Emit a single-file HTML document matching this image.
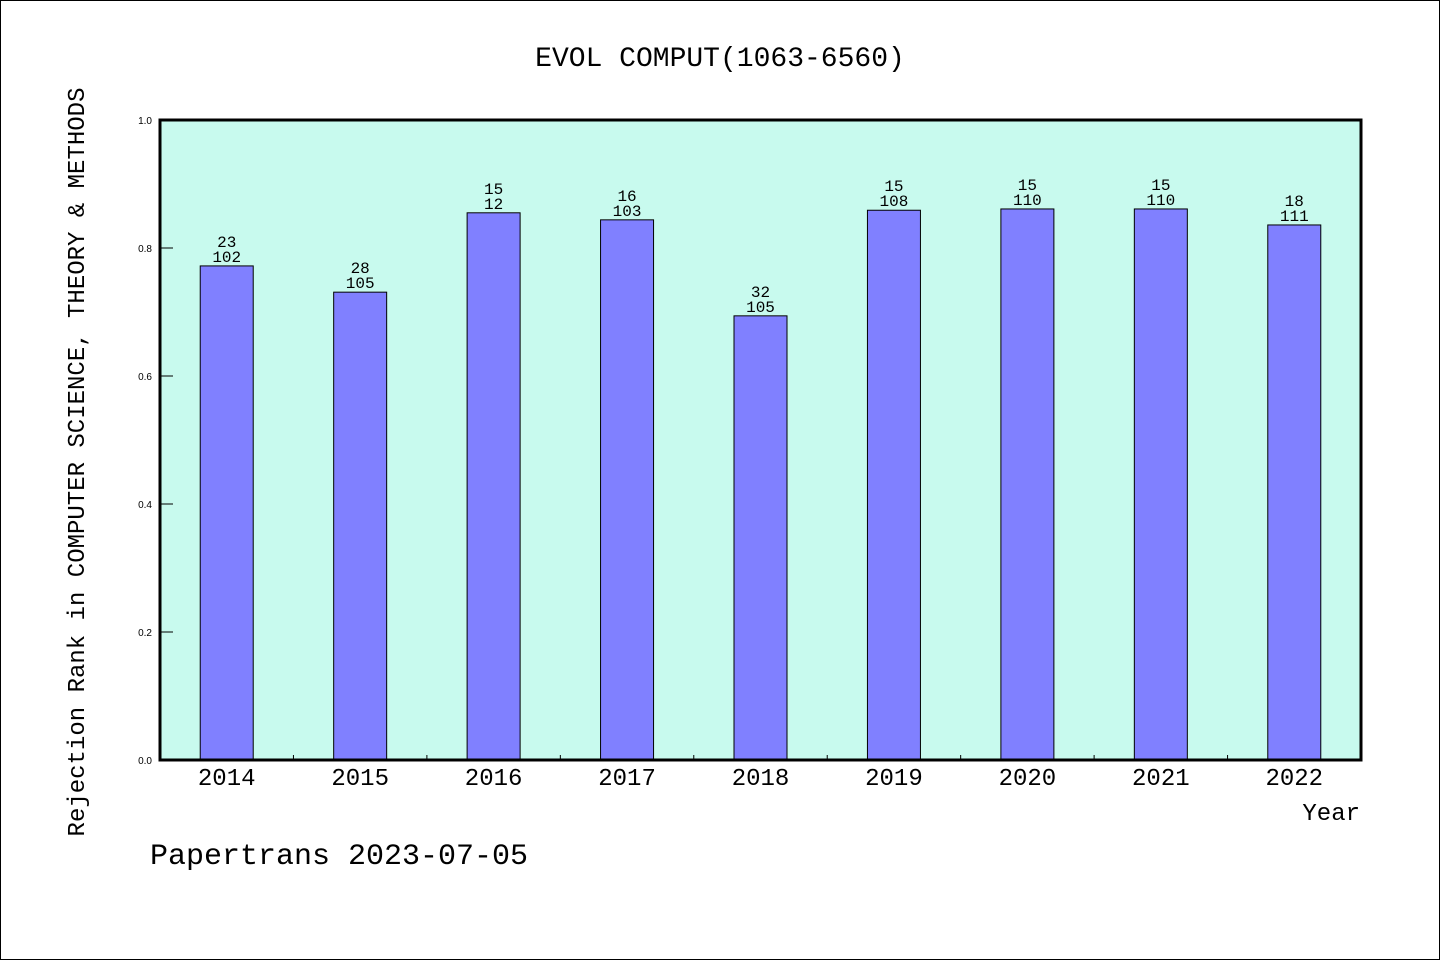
<!DOCTYPE html>
<html><head><meta charset="utf-8">
<style>
html,body{margin:0;padding:0;background:#fff;}
svg{display:block;font-family:"WenQuanYi Zen Hei","Liberation Mono",monospace;}
</style></head>
<body>
<svg id="chart" width="1440" height="960" viewBox="0 0 1440 960" xmlns="http://www.w3.org/2000/svg">
<rect x="0.5" y="0.5" width="1439" height="959" fill="#fff" stroke="#000" stroke-width="1"/>
<text x="720" y="66" text-anchor="middle" font-size="28">EVOL COMPUT(1063-6560)</text>
<rect x="160" y="120" width="1201" height="640" fill="#c8faee"/>
<g id="bars"></g>
<rect x="160" y="120" width="1201" height="640" fill="none" stroke="#000" stroke-width="3"/>
<g id="axes"></g>
<text transform="translate(84,462) rotate(-90)" text-anchor="middle" font-size="24">Rejection Rank in COMPUTER SCIENCE, THEORY &amp; METHODS</text>
<text x="1360" y="820" text-anchor="end" font-size="24">Year</text>
<text x="150" y="864" font-size="30">Papertrans 2023-07-05</text>
</svg>
<script>
const categories = ["2014","2015","2016","2017","2018","2019","2020","2021","2022"];
const values = [0.772, 0.731, 0.855, 0.844, 0.694, 0.859, 0.861, 0.861, 0.836];
const rankLabels = ["23","28","15","16","32","15","15","15","18"];
const totalLabels = ["102","105","12","103","105","108","110","110","111"];
const yTicks = [0.0, 0.2, 0.4, 0.6, 0.8, 1.0];

const NS = "http://www.w3.org/2000/svg";
const X0 = 160, X1 = 1361, Y0 = 760, Y1 = 120;
const slot = (X1 - X0) / categories.length;
const barW = 53;
function xCenter(i){ return X0 + slot * (i + 0.5); }
function yScale(v){ return Y0 - (v - 0) / (1 - 0) * (Y0 - Y1); }
function mk(tag, attrs){ const e = document.createElementNS(NS, tag); for (const k in attrs) e.setAttribute(k, attrs[k]); return e; }

const bars = document.getElementById('bars');
const axes = document.getElementById('axes');
categories.forEach((c, i) => {
  const cx = xCenter(i), y = yScale(values[i]);
  const r = mk('rect', {x: cx - barW/2, y: y, width: barW, height: Y0 - y, fill: '#8080ff', stroke: '#000', 'stroke-width': 1});
  
  
  bars.appendChild(r);
  const t1 = mk('text', {x: cx, y: y - 19, 'text-anchor': 'middle', 'font-size': 16});
  t1.textContent = rankLabels[i];
  
  
  bars.appendChild(t1);
  const t2 = mk('text', {x: cx, y: y - 4, 'text-anchor': 'middle', 'font-size': 16});
  t2.textContent = totalLabels[i];
  
  
  bars.appendChild(t2);
  const xl = mk('text', {x: cx, y: 785, 'text-anchor': 'middle', 'font-size': 24});
  xl.textContent = c;
  
  
  axes.appendChild(xl);
  if (i > 0) {
    const bx = X0 + slot * i;
    const tk = mk('line', {x1: bx, x2: bx, y1: Y0, y2: Y0 - 5, stroke: '#000', 'stroke-width': 1});
    
    
    axes.appendChild(tk);
  }
});
yTicks.forEach(v => {
  const y = yScale(v);
  const tk = mk('line', {x1: X0, x2: X0 + 13, y1: y, y2: y, stroke: '#000', 'stroke-width': 1});
  
  
  axes.appendChild(tk);
  const tl = mk('text', {x: 152, y: y + 4, 'text-anchor': 'end', 'font-size': 10, 'font-family': '"Liberation Sans", sans-serif'});
  tl.textContent = v.toFixed(1);
  
  
  axes.appendChild(tl);
});
</script>
</body></html>
